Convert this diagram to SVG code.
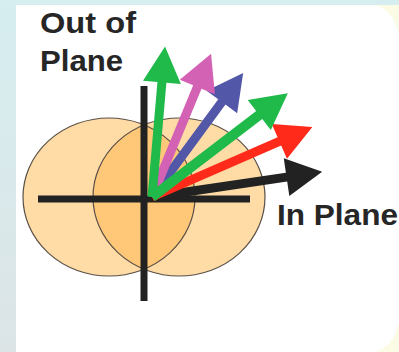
<svg xmlns="http://www.w3.org/2000/svg" width="399" height="352" viewBox="0 0 399 352">
  <defs>
    <linearGradient id="bg" x1="0" y1="0" x2="0" y2="1">
      <stop offset="0" stop-color="#d6eef0"/>
      <stop offset="1" stop-color="#dce4e6"/>
    </linearGradient>
    <clipPath id="clipL"><ellipse cx="109" cy="197" rx="86" ry="79"/></clipPath>
    <style>
      .lbl { font-family: "Liberation Sans", Arial, sans-serif; font-weight: bold; font-size: 30px; fill: #262626; }
      .lobe { fill: #ffdba6; }
      .edge { fill: none; stroke: #5a5048; stroke-width: 1.2; }
      .axis { stroke: #222; stroke-width: 7; fill: none; }
    </style>
  </defs>
  <rect x="0" y="0" width="399" height="352" fill="url(#bg)"/>
  <rect x="16" y="5" width="383" height="347" fill="#fcfce6"/>
  <path d="M16,5 H375 A30,40 0 0 1 399,35 V322 A30,40 0 0 1 375,352 H16 Z" fill="#ffffff"/>

  <g id="lobes">
    <ellipse class="lobe" cx="109" cy="197" rx="86" ry="79"/>
    <ellipse class="lobe" cx="179" cy="197" rx="86" ry="79"/>
    <ellipse cx="179" cy="197" rx="86" ry="79" fill="#ffc878" clip-path="url(#clipL)"/>
    <ellipse class="edge" cx="109" cy="197" rx="86" ry="79"/>
    <ellipse class="edge" cx="179" cy="197" rx="86" ry="79"/>
  </g>

  <g id="axes">
    <line class="axis" x1="144" y1="86" x2="144" y2="301"/>
    <line class="axis" x1="38" y1="199" x2="250" y2="199" stroke-width="6"/>
  </g>

  <g id="connectors">
    <g id="arrow-black" transform="translate(152,197) rotate(-8.4)">
      <path d="M0,-4.5 H136 V-19 L172,0 L136,19 V4.5 H0 Z" fill="#222222"/>
    </g>
    <g id="arrow-red" transform="translate(152,197) rotate(-23.6)">
      <path d="M0,-4.5 H139 V-19 L175,0 L139,19 V4.5 H0 Z" fill="#ff2a1a"/>
    </g>
    <g id="arrow-blue" transform="translate(152,197) rotate(-53.7)">
      <path d="M0,-4.5 H118 V-19 L154,0 L118,19 V4.5 H0 Z" fill="#5257a8"/>
    </g>
    <g id="arrow-pink" transform="translate(152,197) rotate(-67.6)">
      <path d="M0,-4.5 H119 V-19 L155,0 L119,19 V4.5 H0 Z" fill="#d462b4"/>
    </g>
    <g id="arrow-green1" transform="translate(152,197) rotate(-85.05)">
      <path d="M0,-4.5 H115 V-19 L151,0 L115,19 V4.5 H0 Z" fill="#1fba4a"/>
    </g>
    <g id="arrow-green2" transform="translate(152,197) rotate(-37.4)">
      <path d="M0,-5 H135 V-19 L171,0 L135,19 V5 H0 Z" fill="#1fba4a"/>
    </g>
  </g>

  <g id="labels">
    <text class="lbl" x="40" y="33" textLength="96" lengthAdjust="spacingAndGlyphs">Out of</text>
    <text class="lbl" x="40" y="71" textLength="83" lengthAdjust="spacingAndGlyphs">Plane</text>
    <text class="lbl" x="277" y="225" textLength="121" lengthAdjust="spacingAndGlyphs">In Plane</text>
  </g>
</svg>
